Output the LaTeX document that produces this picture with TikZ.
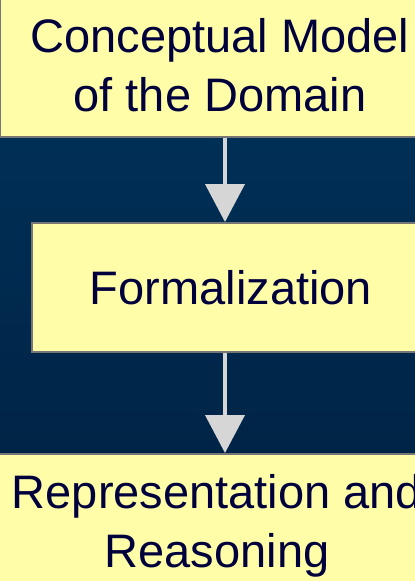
\documentclass[tikz,border=0pt]{standalone}
\usepackage{fontspec}
\setmainfont{Liberation Sans}
\usetikzlibrary{arrows.meta,positioning}
\definecolor{paleyellow}{RGB}{255,253,168}
\definecolor{navytop}{RGB}{0,47,86}
\definecolor{navybot}{RGB}{0,36,70}
\definecolor{inknavy}{RGB}{0,0,60}
\definecolor{rimgray}{RGB}{118,118,118}
\definecolor{flowgray}{RGB}{214,214,214}
\tikzstyle{band}=[draw=rimgray, line width=2pt, fill=paleyellow, text=inknavy,
  align=center, font=\fontsize{47}{59}\selectfont, inner sep=0pt]
\tikzstyle{flow}=[draw=flowgray, line width=4pt,
  -{Triangle[width=39pt,length=38pt,fill=flowgray]}]

\begin{document}
\begin{tikzpicture}[x=1pt,y=-1pt]
\useasboundingbox (0,0) rectangle (415,581);
\clip (0,0) rectangle (415,581);
% dark backdrop
\shade[top color=navytop, bottom color=navybot] (0,137) rectangle (415,454);
\coordinate (axis) at (225,0);
\node[band, minimum width=440pt, minimum height=144pt] (concept) at (220,65) {Conceptual Model\\of the Domain};
\node[band, minimum width=398pt, minimum height=129pt] (formal) at (231,287.5) {Formalization};
\node[band, minimum width=440pt, minimum height=144pt] (reason) at (217,526) {Representation and\\Reasoning};
\draw[flow] (concept.south -| axis) -- (formal.north -| axis);
\draw[flow] (formal.south -| axis) -- (reason.north -| axis);
\end{tikzpicture}
\end{document}
